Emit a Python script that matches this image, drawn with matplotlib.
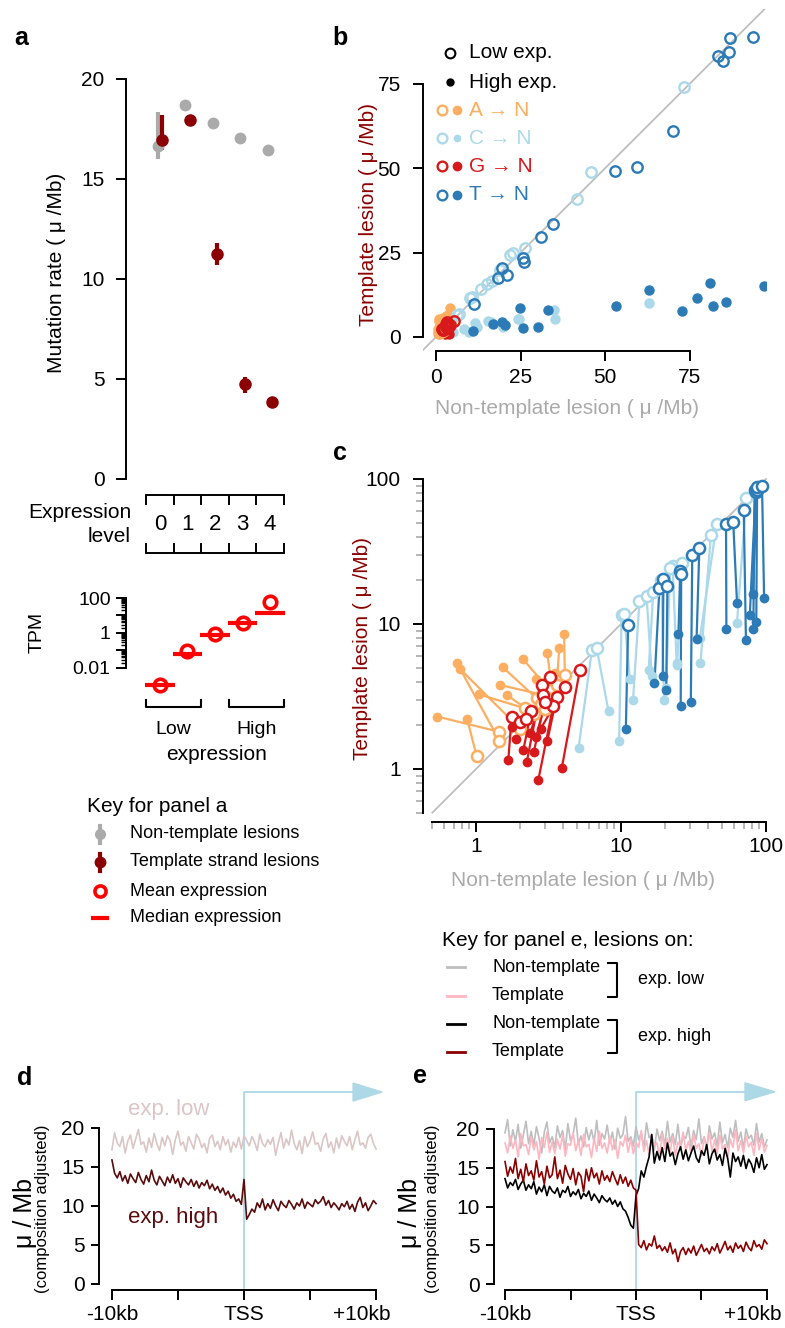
import numpy as np
import matplotlib
matplotlib.use('Agg')
import matplotlib.pyplot as plt
import matplotlib.transforms as mtrans
from matplotlib.lines import Line2D
from matplotlib.patches import Polygon

plt.rcParams['font.family'] = ['Liberation Sans', 'DejaVu Sans']
plt.rcParams['axes.linewidth'] = 1.4

# ---------------- data ----------------
# panel a: mutation rate per expression level
levels = [0, 1, 2, 3, 4]
nontemplate_rate = [16.65, 18.7, 17.8, 17.05, 16.45]
nontemplate_lo = [16.0, 18.55, 17.65, 16.9, 16.3]
nontemplate_hi = [18.35, 18.85, 17.95, 17.2, 16.6]
template_rate = [16.95, 17.95, 11.25, 4.75, 3.87]
template_lo = [16.45, 17.75, 10.7, 4.3, 3.72]
template_hi = [18.2, 18.15, 11.8, 5.1, 4.02]
tpm_mean = [0.0011, 0.093, 0.87, 3.7, 62]
tpm_median = [0.0011, 0.063, 0.80, 3.5, 14]

# panels b/c: (non-template, template) lesion rates, low and high expression
a_low_x = [1.01, 1.43, 1.45, 2.01, 2.18, 2.62, 2.90, 3.20, 2.50, 3.40, 3.60, 4.10, 2.80, 3.00]
a_low_y = [1.23, 1.81, 1.57, 1.90, 2.62, 3.07, 3.24, 3.50, 2.40, 3.10, 3.80, 4.45, 2.80, 2.60]
a_high_x = [0.87, 0.54, 0.74, 0.78, 1.05, 1.53, 1.46, 2.12, 1.63, 3.10, 3.75, 4.05, 2.60, 3.50]
a_high_y = [2.20, 2.30, 5.36, 4.87, 3.27, 5.03, 3.80, 5.70, 3.24, 6.30, 6.80, 8.50, 4.20, 4.60]

c_low_x = [6.3, 6.8, 10.1, 10.5, 13.4, 15.0, 16.7, 19.0, 22.7, 26.3, 41.7, 45.7, 73.2, 21.8]
c_low_y = [6.6, 6.8, 11.5, 11.8, 14.3, 15.6, 16.7, 20.0, 25.0, 26.3, 41.0, 49.0, 74.0, 24.2]
c_high_x = [5.1, 8.2, 9.7, 11.5, 12.1, 16.3, 15.5, 19.8, 24.2, 24.4, 35.3, 35.0, 63.0, 20.5]
c_high_y = [1.4, 2.5, 1.55, 4.2, 3.0, 4.4, 4.8, 3.0, 5.35, 5.2, 5.4, 8.0, 10.1, 3.6]

g_low_x = [1.76, 2.00, 2.40, 2.84, 3.24, 2.90, 3.60, 3.40, 4.10, 5.20, 2.20, 3.00]
g_low_y = [2.30, 2.10, 2.50, 3.80, 4.33, 3.24, 3.15, 2.70, 3.70, 4.80, 2.20, 2.90]
g_high_x = [1.67, 1.76, 2.12, 2.24, 2.50, 2.36, 3.10, 2.69, 2.80, 3.90, 1.90, 2.60]
g_high_y = [1.15, 1.96, 1.35, 1.12, 1.30, 1.76, 1.55, 0.84, 1.90, 1.01, 1.60, 1.65]

t_low_x = [11.2, 18.4, 19.6, 20.9, 25.6, 26.0, 31.0, 34.7, 53.0, 59.4, 70.2, 83.3, 84.8, 86.8, 87.0, 93.9]
t_low_y = [9.8, 17.6, 20.4, 18.4, 23.3, 22.2, 29.7, 33.5, 49.2, 50.5, 60.9, 83.3, 81.8, 84.6, 88.6, 88.8]
t_high_x = [10.8, 17.0, 19.4, 20.5, 24.9, 25.8, 30.3, 33.2, 53.3, 63.1, 72.7, 81.8, 77.3, 85.7, 81.0, 97.0]
t_high_y = [1.9, 3.9, 4.4, 3.5, 8.5, 2.7, 2.9, 7.9, 9.2, 13.9, 7.8, 9.3, 11.5, 10.3, 16.1, 15.2]

# panels d/e: profiles around the TSS, 200 bp bins from -10kb to +10kb
d_low = [17.2, 19.4, 18.1, 17.6, 18.9, 16.8, 18.3, 19.1, 17.4, 18.6,
         19.8, 17.9, 18.2, 16.9, 18.7, 17.5, 19.3, 18.0, 17.1, 18.8,
         17.7, 19.0, 18.4, 16.6, 18.5, 19.6, 17.8, 18.2, 17.0, 18.9,
         18.1, 17.3, 19.2, 18.6, 17.5, 18.0, 16.8, 18.7, 19.1, 17.6,
         18.3, 17.2, 18.9, 17.8, 18.5, 16.9, 18.2, 17.5, 18.8, 17.3,
         19.0, 18.4, 17.7, 18.9, 18.2, 17.1, 19.2, 18.0, 17.6, 18.5,
         17.9, 18.8, 16.5, 18.1, 19.4, 17.4, 18.6, 17.8, 19.7, 18.0,
         17.2, 18.4, 16.7, 18.9, 17.6, 18.3, 19.5, 17.9, 18.1, 17.0,
         18.6, 19.3, 17.5, 18.2, 16.8, 18.7, 17.4, 19.0, 18.3, 17.7,
         18.9, 17.2, 18.5, 19.6, 17.8, 18.1, 17.4, 18.8, 19.2, 18.0, 17.3]
d_high = [15.9, 14.2, 13.6, 14.4, 13.2, 13.9, 12.9, 14.1, 13.5, 13.0,
          14.3, 13.4, 12.8, 13.9, 13.1, 14.6, 13.3, 12.7, 13.8, 13.2,
          12.6, 13.7, 13.0, 14.0, 12.9, 13.5, 12.4, 13.6, 13.1, 12.7,
          13.4, 12.5, 13.2, 12.3, 13.0, 12.6, 13.3, 12.2, 12.8, 12.0,
          12.5, 11.7, 12.3, 11.4, 11.9, 11.0, 11.5, 10.6, 10.9, 10.2,
          13.4, 8.3, 8.9, 9.6, 9.2, 10.4, 9.8, 10.9, 9.5, 10.3, 9.7,
          10.8, 10.0, 9.4, 10.6, 10.1, 9.8, 10.7, 10.2, 9.6, 10.4,
          10.0, 10.9, 9.7, 10.5, 10.2, 9.9, 10.8, 10.3, 10.6, 11.2,
          10.1, 10.7, 9.8, 10.4, 10.0, 9.5, 10.3, 9.9, 10.6, 9.6,
          10.2, 9.3, 10.5, 11.1, 9.8, 10.4, 9.4, 10.0, 10.7, 10.3]
e_nt_low = [19.5, 21.2, 17.8, 19.9, 18.4, 20.6, 17.5, 19.2, 21.0, 18.1,
            19.7, 17.9, 20.3, 18.8, 16.9, 19.6, 20.9, 18.2, 19.0, 17.6,
            20.4, 18.9, 19.8, 17.3, 20.7, 18.5, 19.3, 21.4, 18.0, 19.1,
            17.7, 20.2, 18.6, 19.9, 18.3, 21.1, 17.9, 19.4, 18.7, 20.5,
            18.2, 19.6, 17.4, 20.1, 18.8, 19.3, 21.6, 18.4, 19.0, 17.8,
            20.3, 18.6, 19.5, 17.6, 20.8, 18.9, 19.2, 17.3, 20.0, 18.5,
            19.7, 17.9, 21.0, 18.3, 19.4, 18.0, 20.6, 17.5, 19.1, 18.8,
            20.2, 17.7, 19.8, 18.6, 21.3, 18.1, 19.0, 17.4, 20.4, 18.7,
            19.5, 17.8, 20.9, 18.2, 19.3, 17.6, 20.1, 18.9, 21.1, 18.4,
            19.6, 17.5, 20.0, 18.8, 19.2, 17.9, 20.7, 18.3, 19.4, 17.7, 18.6]
e_t_low = [18.2, 16.9, 19.1, 17.5, 18.6, 16.4, 19.4, 17.8, 18.0, 16.7,
           19.0, 17.3, 18.4, 16.1, 18.9, 17.6, 19.6, 17.0, 18.3, 16.8,
           18.7, 17.4, 19.2, 16.5, 18.1, 17.9, 19.5, 17.2, 18.5, 16.6,
           19.3, 17.7, 18.0, 16.3, 18.8, 17.1, 19.7, 17.5, 18.2, 16.9,
           19.0, 17.3, 18.6, 16.2, 18.4, 17.8, 19.2, 17.0, 18.7, 16.8,
           18.3, 17.6, 19.8, 17.1, 18.5, 16.7, 19.1, 17.9, 18.2, 16.4,
           19.4, 17.4, 18.8, 17.0, 19.0, 16.6, 18.3, 17.7, 19.6, 17.2,
           18.4, 16.9, 19.3, 17.5, 18.1, 16.5, 18.9, 17.8, 19.5, 17.1,
           18.6, 16.8, 19.2, 17.4, 18.0, 16.3, 18.7, 17.6, 19.9, 17.2,
           18.5, 16.9, 19.1, 17.7, 18.3, 16.6, 19.4, 17.3, 18.8, 17.0, 17.9]
e_nt_high = [13.6, 12.4, 13.1, 12.7, 13.5, 12.2, 12.9, 13.4, 12.1, 12.8,
             12.3, 13.2, 11.6, 12.5, 11.9, 12.8, 11.4, 12.6, 12.0, 11.7,
             12.4, 11.2, 12.1, 11.8, 12.6, 11.3, 11.9, 11.5, 12.2, 11.0,
             11.7, 11.3, 12.0, 10.8, 11.6, 11.1, 10.5, 11.4, 10.9, 10.6,
             11.1, 10.3, 10.8, 10.0, 10.6, 9.7, 9.4, 8.6, 7.6, 7.2,
             11.4, 12.3, 14.6, 13.8, 15.2, 16.4, 19.3, 15.6, 17.1, 16.0,
             17.6, 15.8, 18.2, 16.5, 17.0, 15.4, 16.8, 17.7, 16.1, 17.3,
             15.9, 16.9, 17.8, 16.3, 15.7, 17.2, 16.6, 18.0, 15.5, 16.8,
             17.4, 16.0, 16.7, 15.3, 17.5, 16.2, 13.8, 16.9, 15.8, 16.4,
             15.2, 16.6, 14.9, 16.1, 15.5, 14.4, 16.3, 15.0, 16.7, 14.8, 15.4]
e_t_high = [15.8, 13.9, 15.1, 14.3, 16.2, 13.6, 14.8, 13.2, 15.5, 14.0,
            14.6, 13.4, 15.9, 13.8, 14.5, 12.9, 15.2, 13.7, 14.1, 16.4,
            13.6, 14.7, 13.0, 15.3, 14.2, 13.5, 14.9, 12.8, 14.4, 13.9,
            11.9, 14.8, 13.3, 15.0, 13.7, 14.3, 12.9, 14.6, 13.4, 14.0,
            13.2, 14.5, 13.6, 12.8, 14.1, 13.0, 13.8, 12.6, 13.4, 12.4,
            12.1, 5.1, 4.7, 5.6, 4.4, 5.2, 4.9, 6.2, 4.6, 5.0,
            4.3, 4.8, 4.1, 5.3, 3.9, 4.5, 2.9, 4.2, 4.7, 3.8,
            4.6, 4.0, 4.9, 3.7, 4.4, 5.1, 4.2, 4.6, 3.9, 4.8,
            4.3, 5.2, 4.0, 4.7, 5.5, 4.4, 4.9, 4.1, 5.3, 4.6,
            5.0, 4.2, 5.4, 4.7, 4.3, 5.6, 4.8, 5.1, 4.5, 5.7, 5.2]
bin_kb = np.arange(len(d_low)) * 0.2 - 10

col_A, col_C, col_G, col_T = '#FDAE61', '#ABD9E9', '#D7191C', '#2C7BB6'
groups = [(a_low_x, a_low_y, a_high_x, a_high_y, col_A, 'A'),
          (c_low_x, c_low_y, c_high_x, c_high_y, col_C, 'C'),
          (g_low_x, g_low_y, g_high_x, g_high_y, col_G, 'G'),
          (t_low_x, t_low_y, t_high_x, t_high_y, col_T, 'T')]

GREY = '#AAAAAA'
DRED = '#8B0000'
LBLUE = '#ADD8E6'

# ---------------- layout helpers (pixel coords) ----------------
W, H = 785, 1328
fig = plt.figure(figsize=(W / 100, H / 100), dpi=100)


def fx(px):
    return px / W


def fy(py):
    return 1 - py / H


def add_ax(l, t, r, b):
    return fig.add_axes([l / W, 1 - b / H, (r - l) / W, (b - t) / H])


def ftext(px, py, s, **kw):
    kw.setdefault('fontsize', 15)
    fig.text(fx(px), fy(py), s, **kw)


def fline(xs, ys, **kw):
    fig.add_artist(Line2D([fx(x) for x in xs], [fy(y) for y in ys],
                          transform=fig.transFigure, **kw))


def clean(ax):
    for s in ['top', 'right']:
        ax.spines[s].set_visible(False)
    ax.tick_params(labelsize=15, length=7, width=1.4)


# panel letters
for lbl, px, py in [('a', 21, 38), ('b', 340, 38), ('c', 340, 453), ('d', 25, 1078), ('e', 420, 1076)]:
    ftext(px, py, lbl, fontsize=18, fontweight='bold', ha='center', va='center')

# ---------------- panel a ----------------
x_lim_a = (-1.236, 4.727)
axa = add_ax(126, 60, 290, 485)
clean(axa)
axa.set_xlim(*x_lim_a)
axa.set_ylim(-0.3, 20.95)
axa.spines['bottom'].set_visible(False)
axa.set_xticks([])
axa.spines['left'].set_bounds(0, 20)
axa.set_yticks([0, 5, 10, 15, 20])
axa.tick_params(axis='y', pad=8.5)
lv = np.array(levels)
nr = np.array(nontemplate_rate)
tr = np.array(template_rate)
axa.errorbar(lv - 0.08, nr, yerr=[nr - np.array(nontemplate_lo), np.array(nontemplate_hi) - nr],
             fmt='o', color=GREY, ms=7.5, elinewidth=3, capsize=0)
axa.errorbar(lv + 0.08, tr, yerr=[tr - np.array(template_lo), np.array(template_hi) - tr],
             fmt='o', color=DRED, ms=8, elinewidth=3, capsize=0)
ftext(57, 273, 'Mutation rate ( \u03bc /Mb)', rotation=90, ha='center', va='center')

# expression level strip
axl = add_ax(126, 495, 290, 553)
axl.set_xlim(*x_lim_a)
axl.set_ylim(0, 1)
for s in ['left', 'right']:
    axl.spines[s].set_visible(False)
for s in ['top', 'bottom']:
    axl.spines[s].set_bounds(-0.5, 4.5)
axl.set_yticks([])
axl.set_xticks(np.arange(-0.5, 5, 1))
axl.tick_params(axis='x', top=True, bottom=True, direction='in', length=7.5, width=1.4,
                labelbottom=False)
for lvl in levels:
    axl.text(lvl, 0.5, str(lvl), ha='center', va='center', fontsize=16)
ftext(131, 513, 'Expression', ha='right', va='center', fontsize=15)
ftext(131, 536, 'level', ha='right', va='center', fontsize=15)

# TPM panel
axt = add_ax(126, 585, 290, 700)
clean(axt)
axt.set_yscale('log')
axt.set_xlim(*x_lim_a)
axt.set_ylim(10 ** -3.829, 10 ** 2.743)
axt.spines['bottom'].set_visible(False)
axt.set_xticks([])
axt.spines['left'].set_bounds(0.01, 100)
axt.set_yticks([0.01, 0.1, 1, 10, 100])
axt.set_yticklabels(['0.01', '', '1', '', '100'])
axt.set_yticks([k * 10.0 ** e for e in range(-2, 2) for k in range(2, 10)], minor=True)
axt.tick_params(axis='y', which='minor', length=3.5, width=1.0, labelleft=False)
axt.tick_params(axis='y', which='major', labelsize=14, pad=4)
axt.hlines(tpm_median, lv - 0.53, lv + 0.53, color='red', lw=3)
axt.plot(levels, tpm_mean, 'o', mfc='none', mec='red', mew=2.6, ms=9)
ftext(37, 632, 'TPM', rotation=90, ha='center', va='center', fontsize=14)

blend = mtrans.blended_transform_factory(axt.transData, fig.transFigure)
for x0, x1, name in [(-0.5, 1.5, 'Low'), (2.5, 4.5, 'High')]:
    fig.add_artist(Line2D([x0, x0, x1, x1], [fy(700), fy(707), fy(707), fy(700)],
                          transform=blend, color='black', lw=1.5))
    fig.text((x0 + x1) / 2, fy(729), name, transform=blend, ha='center', va='center', fontsize=14)
ftext(217, 755, 'expression', ha='center', va='center')

# key for panel a
ftext(87, 807, 'Key for panel a', ha='left', va='center')
fline([100, 100], [826, 843], color=GREY, lw=3)
fline([100], [834], marker='o', color=GREY, ms=7)
fline([100, 100], [854, 871], color=DRED, lw=3)
fline([100], [862], marker='o', color=DRED, ms=7.5)
fline([100], [891], marker='o', mfc='none', mec='red', mew=2.6, ms=8)
fline([93, 107], [918, 918], color='red', lw=3)
for txt, py in [('Non-template lesions', 834), ('Template strand lesions', 862),
                ('Mean expression', 891), ('Median expression', 918)]:
    ftext(130, py, txt, ha='left', va='center', fontsize=13)

# ---------------- panel b ----------------
axb = add_ax(423, 9, 766, 351)
clean(axb)
axb.set_xlim(-3.85, 97.6)
axb.set_ylim(-4.15, 97.2)
axb.spines['left'].set_bounds(0, 75)
axb.spines['bottom'].set_bounds(0, 75)
axb.set_xticks([0, 25, 50, 75])
axb.set_yticks([0, 25, 50, 75])
axb.tick_params(axis='y', pad=9)
axb.tick_params(axis='x', pad=5)
axb.axline((0, 0), slope=1, color='#BEBEBE', lw=1.3, zorder=1)
for lx, ly, hx, hy, col, base in groups:
    axb.plot(lx, ly, 'o', mfc='none', mec=col, mew=1.7, ms=7.5, ls='none', zorder=3)
    axb.plot(hx, hy, 'o', color=col, ms=6.5, ls='none', zorder=2)
ftext(368, 215, 'Template lesion ( \u03bc /Mb)', rotation=90, ha='center', va='center', color=DRED)
ftext(567, 409, 'Non-template lesion ( \u03bc /Mb)', ha='center', va='center', color=GREY)

# legend for b
fline([450], [53], marker='o', mfc='none', mec='black', mew=1.5, ms=7)
ftext(469, 53, 'Low exp.', ha='left', va='center')
fline([450], [82], marker='o', color='black', ms=5)
ftext(469, 82, 'High exp.', ha='left', va='center')
for (lx, ly, hx, hy, col, base), py in zip(groups, [110, 138, 166, 195]):
    fline([442], [py], marker='o', mfc='none', mec=col, mew=1.7, ms=7)
    fline([457], [py], marker='o', color=col, ms=6 if base != 'C' else 4.5)
    ftext(469, py, base + ' \u2192 N', ha='left', va='center', color=col)

# ---------------- panel c ----------------
axc = add_ax(423, 466, 779, 822)
clean(axc)
axc.set_xscale('log')
axc.set_yscale('log')
axc.set_xlim(0.431, 122.9)
axc.set_ylim(0.431, 122.9)
axc.spines['left'].set_bounds(0.5, 100)
axc.spines['bottom'].set_bounds(0.5, 100)
minor = [k * 10.0 ** e for e in range(-1, 2) for k in range(2, 10) if k * 10.0 ** e >= 0.5]
for axis in [axc.xaxis, axc.yaxis]:
    axis.set_ticks([1, 10, 100])
    axis.set_ticklabels(['1', '10', '100'])
    axis.set_ticks(minor, minor=True)
    axis.set_ticklabels([], minor=True)
axc.tick_params(which='minor', length=5, width=1.2, color=GREY)
axc.tick_params(axis='x', pad=4)
axc.tick_params(axis='y', pad=9)
axc.plot([0.5, 100], [0.5, 100], color='#BEBEBE', lw=1.3, zorder=1)
for lx, ly, hx, hy, col, base in groups:
    for x0, y0, x1, y1 in zip(lx, ly, hx, hy):
        axc.plot([x0, x1], [y0, y1], color=col, lw=1.6, zorder=2)
    axc.plot(hx, hy, 'o', color=col, ms=6, ls='none', zorder=3)
    axc.plot(lx, ly, 'o', mfc='white', mec=col, mew=1.8, ms=8, ls='none', zorder=3)
ftext(362, 648, 'Template lesion ( \u03bc /Mb)', rotation=90, ha='center', va='center', color=DRED)
ftext(583, 880, 'Non-template lesion ( \u03bc /Mb)', ha='center', va='center', color=GREY)

# key for panel e
ftext(442, 940, 'Key for panel e, lesions on:', ha='left', va='center')
for col, txt, py in [('#BEBEBE', 'Non-template', 967), ('#FFB6C1', 'Template', 996),
                     ('black', 'Non-template', 1024), (DRED, 'Template', 1052)]:
    fline([447, 465], [py, py], color=col, lw=2)
    ftext(492, py, txt, ha='left', va='center', fontsize=13)
for y0, y1, txt in [(963, 997, 'exp. low'), (1020, 1053, 'exp. high')]:
    fline([608, 617, 617, 608], [y0, y0, y1, y1], color='black', lw=1.5)
    ftext(638, (y0 + y1) / 2, txt, ha='left', va='center', fontsize=13)


# ---------------- panels d and e ----------------
def profile_axes(l, r, xpad, ytop):
    ax = add_ax(l, 1110, r, 1290)
    clean(ax)
    ax.set_xlim(-10 - xpad, 10 + xpad)
    ax.set_ylim(-0.77, ytop)
    ax.spines['left'].set_bounds(0, 20)
    ax.spines['bottom'].set_bounds(-10, 10)
    ax.set_yticks([0, 5, 10, 15, 20])
    ax.set_xticks([-10, -5, 0, 5, 10])
    ax.set_xticklabels(['-10kb', '', 'TSS', '', ''])
    ax.tick_params(axis='y', length=5.5, pad=5)
    ax.tick_params(axis='x', length=7, pad=4)
    # the right-hand label sits a little inside the last tick
    ax.annotate('+10kb', xy=(10, -0.77), xycoords='data', xytext=(-10, -11),
                textcoords='offset points', ha='center', va='top', fontsize=15,
                annotation_clip=False)
    return ax


def tss_arrow(ax, top, xend, xhead, half):
    y0 = ax.get_ylim()[0]
    ax.plot([0, 0, xend], [y0, top, top], color=LBLUE, lw=1.3, clip_on=False, zorder=1)
    ax.add_patch(Polygon([[xend, top - half], [xend, top + half], [xhead, top]],
                         closed=True, color=LBLUE, clip_on=False, zorder=1))


axd = profile_axes(99, 389, 0.98, 22.3)
tss_arrow(axd, 24.6, 8.26, 10.45, 1.15)
axd.plot(bin_kb, d_low, color='#DBC6C6', lw=1.2, zorder=2)
axd.plot(bin_kb, d_high, color='#5A0C0C', lw=1.2, zorder=2)
ftext(128, 1110, 'exp. low', ha='left', va='center', fontsize=16, color='#DBC6C6')
ftext(128, 1217, 'exp. high', ha='left', va='center', fontsize=16, color='#5A0C0C')
ftext(25, 1213, '\u03bc / Mb', rotation=90, ha='center', va='center', fontsize=18)
ftext(43, 1209, '(composition adjusted)', rotation=90, ha='center', va='center', fontsize=12)

axe = profile_axes(494, 778, 0.84, 22.45)
tss_arrow(axe, 24.8, 8.32, 10.6, 1.15)
axe.plot(bin_kb, e_nt_low, color='#BEBEBE', lw=1.2, zorder=2)
axe.plot(bin_kb, e_t_low, color='#FFB6C1', lw=1.2, zorder=2)
axe.plot(bin_kb, e_nt_high, color='black', lw=1.2, zorder=2)
axe.plot(bin_kb, e_t_high, color=DRED, lw=1.2, zorder=2)
ftext(410, 1213, '\u03bc / Mb', rotation=90, ha='center', va='center', fontsize=18)
ftext(432, 1209, '(composition adjusted)', rotation=90, ha='center', va='center', fontsize=12)

fig.savefig('out.png', dpi=100)
